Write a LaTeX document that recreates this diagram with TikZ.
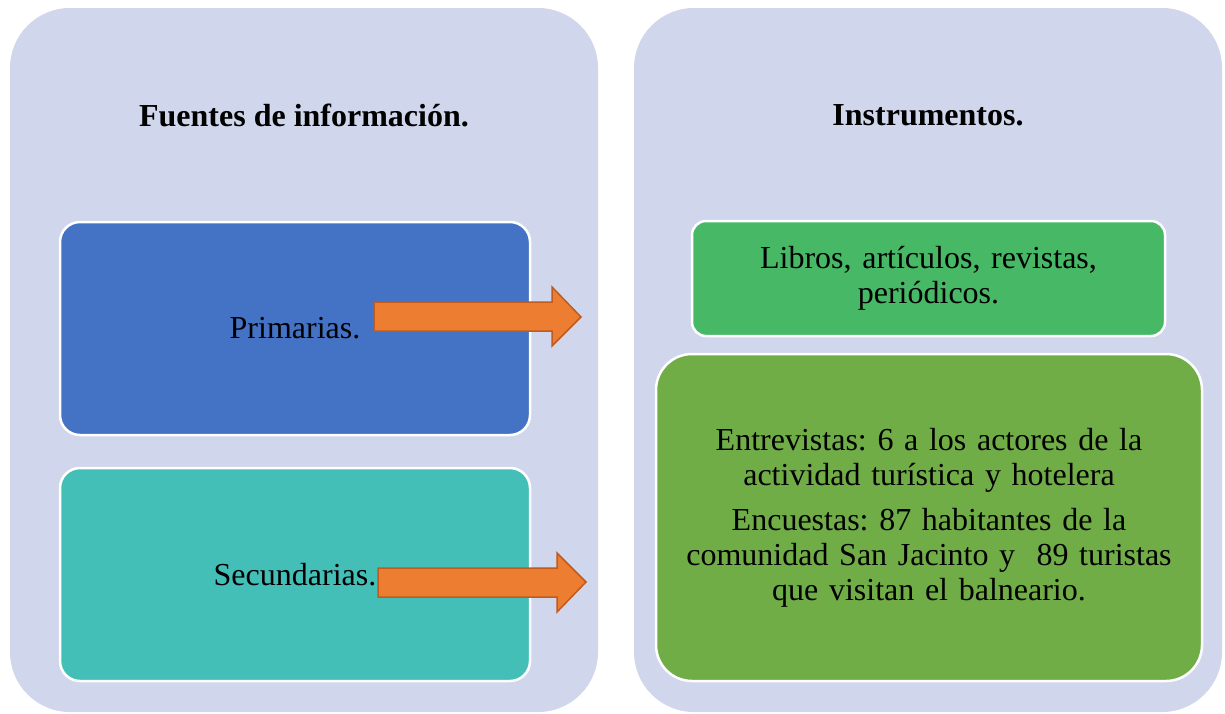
\documentclass[tikz,border=0pt]{standalone}
\usepackage{fontspec}
\setmainfont{Liberation Serif}
\frenchspacing
\definecolor{panel}{HTML}{D0D6EB}
\definecolor{blueb}{HTML}{4472C4}
\definecolor{tealb}{HTML}{44BFB8}
\definecolor{greena}{HTML}{47B866}
\definecolor{greenb}{HTML}{70AD47}
\definecolor{orangef}{HTML}{ED7D31}
\definecolor{oranged}{HTML}{C05A1E}
\tikzset{
  panelbox/.style={fill=panel, draw=none, rounded corners=60pt, minimum width=588pt, minimum height=704pt, inner sep=0pt},
  innerbox/.style={draw=white, line width=2.5pt, align=center, inner sep=0pt, font=\fontsize{32}{35}\selectfont\frenchspacing},
  titletext/.style={font=\fontsize{32}{35}\selectfont\bfseries, inner sep=0pt},
  arrowshape/.style={fill=orangef, draw=oranged, line width=1.5pt, line join=miter}
}
\begin{document}
\begin{tikzpicture}[x=1pt,y=-1pt]
\useasboundingbox (0,0) rectangle (1225,713);
\node[panelbox] (lp) at (304,360) {};
\node[panelbox] (rp) at (928,360) {};
\node[titletext] (lt) at (304,115) {Fuentes de información.};
\node[titletext] (rt) at (928,115) {Instrumentos.};
\node[innerbox, fill=blueb, rounded corners=20pt, minimum width=470pt, minimum height=213pt] (prim) at (295,328.5) {Primarias.};
\node[innerbox, fill=tealb, rounded corners=20pt, minimum width=470pt, minimum height=213pt] (sec) at (295,574.5) {Secundarias.};
\node[innerbox, fill=greena, rounded corners=14pt, minimum width=473pt, minimum height=115pt, text width=460pt] (lib) at (928.5,278.5) {Libros, artículos, revistas,\\periódicos.};
\node[innerbox, fill=greenb, rounded corners=36pt, minimum width=546pt, minimum height=327pt, text width=520pt] (ent) at (929,517.5) {Entrevistas: 6 a los actores de la\\actividad turística y hotelera\\[10pt]Encuestas: 87 habitantes de la\\comunidad San Jacinto y\ \ 89 turistas\\que visitan el balneario.};
\draw[arrowshape] (374,302) -- (552,302) -- (552,287) -- (581,317) -- (552,346) -- (552,331) -- (374,331) -- cycle;
\draw[arrowshape] (378,568) -- (557,568) -- (557,553) -- (586,582) -- (557,612) -- (557,597) -- (378,597) -- cycle;
\end{tikzpicture}
\end{document}
